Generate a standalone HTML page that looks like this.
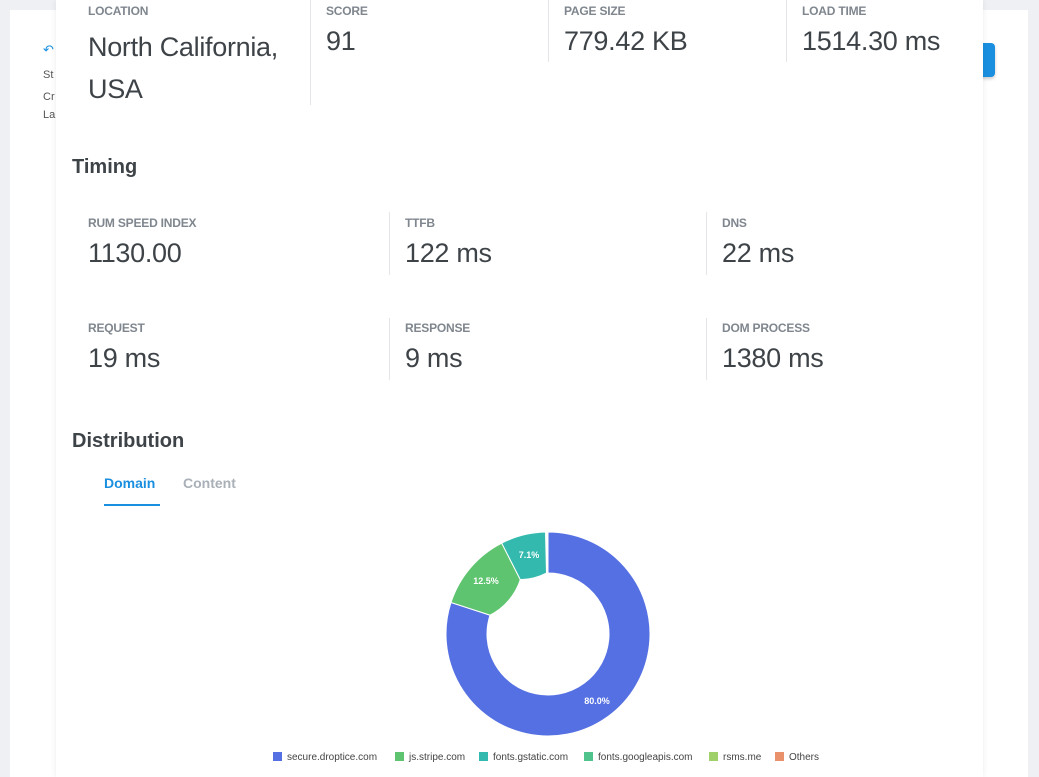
<!DOCTYPE html>
<html><head><meta charset="utf-8"><style>
*{margin:0;padding:0;box-sizing:border-box}
html,body{width:1039px;height:777px;overflow:hidden}
body{background:#eef0f3;font-family:"Liberation Sans",sans-serif;position:relative}
.a{position:absolute}
.card{left:10px;top:10px;width:1018px;height:767px;background:#fff}
.modal{left:56px;top:0;width:927px;height:777px;background:#fff;box-shadow:0 0 6px rgba(0,0,0,.08)}
.lbl{font-size:12px;font-weight:bold;color:#7f868e;letter-spacing:-.2px}
.val{font-size:27px;color:#3e4348;letter-spacing:-.3px}
.div{width:1px;background:#e3e5e8}
h2{position:absolute;font-size:20px;color:#3e4348;font-weight:bold}
.sm{font-size:11px;color:#555}
.leg{font-size:10px;color:#444;position:absolute;top:752px}
.leg i{display:inline-block;width:9px;height:9px;margin-right:5px;vertical-align:-1px}
</style></head><body>
<div class="a card"></div>
<div class="a" style="left:43px;top:42px;color:#1a8fe0;font-size:13px">↶</div>
<div class="a sm" style="left:43px;top:69px">St</div>
<div class="a sm" style="left:43px;top:91px">Cr</div>
<div class="a sm" style="left:43px;top:109px">La</div>
<div class="a" style="left:970px;top:43px;width:25px;height:34px;background:#1a8fe0;border-radius:4px;box-shadow:0 2px 3px rgba(0,0,0,.2)"></div>
<div class="a modal"></div>

<div class="a lbl" style="left:88px;top:4px">LOCATION</div>
<div class="a val" style="left:88px;top:26px;line-height:42px">North California,<br>USA</div>
<div class="a div" style="left:310px;top:0;height:105px"></div>
<div class="a lbl" style="left:326px;top:4px">SCORE</div>
<div class="a val" style="left:326px;top:26px">91</div>
<div class="a div" style="left:548px;top:0;height:62px"></div>
<div class="a lbl" style="left:564px;top:4px">PAGE SIZE</div>
<div class="a val" style="left:564px;top:26px">779.42 KB</div>
<div class="a div" style="left:786px;top:0;height:62px"></div>
<div class="a lbl" style="left:802px;top:4px">LOAD TIME</div>
<div class="a val" style="left:802px;top:26px">1514.30 ms</div>

<h2 style="left:72px;top:156px">Timing</h2>
<div class="a lbl" style="left:88px;top:216px">RUM SPEED INDEX</div>
<div class="a val" style="left:88px;top:238px">1130.00</div>
<div class="a div" style="left:389px;top:212px;height:63px"></div>
<div class="a lbl" style="left:405px;top:216px">TTFB</div>
<div class="a val" style="left:405px;top:238px">122 ms</div>
<div class="a div" style="left:706px;top:212px;height:63px"></div>
<div class="a lbl" style="left:722px;top:216px">DNS</div>
<div class="a val" style="left:722px;top:238px">22 ms</div>

<div class="a lbl" style="left:88px;top:321px">REQUEST</div>
<div class="a val" style="left:88px;top:343px">19 ms</div>
<div class="a div" style="left:389px;top:318px;height:62px"></div>
<div class="a lbl" style="left:405px;top:321px">RESPONSE</div>
<div class="a val" style="left:405px;top:343px">9 ms</div>
<div class="a div" style="left:706px;top:318px;height:62px"></div>
<div class="a lbl" style="left:722px;top:321px">DOM PROCESS</div>
<div class="a val" style="left:722px;top:343px">1380 ms</div>

<h2 style="left:72px;top:430px">Distribution</h2>
<div class="a" style="left:104px;top:475px;font-size:14px;font-weight:bold;color:#1a8fe0">Domain</div>
<div class="a" style="left:104px;top:504px;width:56px;height:2px;background:#1a8fe0"></div>
<div class="a" style="left:183px;top:475px;font-size:14px;font-weight:bold;color:#a9b0b7">Content</div>

<svg class="a" style="left:0;top:0" width="1039" height="777">
<g transform="translate(548,634)" stroke="#fff" stroke-width="1">
<path d="M0,-102 A102,102 0 1 1 -97.01,-31.52 L-58.01,-18.85 A61,61 0 1 0 0,-61 Z" fill="#5470e2"/>
<path d="M-97.01,-31.52 A102,102 0 0 1 -46.31,-90.88 L-27.69,-54.35 A61,61 0 0 1 -58.01,-18.85 Z" fill="#5ec46f"/>
<path d="M-46.31,-90.88 A102,102 0 0 1 -2.5,-101.97 L-1.5,-60.98 A61,61 0 0 1 -27.69,-54.35 Z" fill="#33b9ad"/>
</g>
<g font-family="Liberation Sans" font-size="9" font-weight="bold" fill="#fff" text-anchor="middle">
<text x="529" y="558">7.1%</text>
<text x="486" y="584">12.5%</text>
<text x="597" y="704">80.0%</text>
</g>
</svg>

<div class="leg" style="left:273px"><i style="background:#5470e2"></i>secure.droptice.com</div>
<div class="leg" style="left:395px"><i style="background:#5ec46f"></i>js.stripe.com</div>
<div class="leg" style="left:479px"><i style="background:#33b9ad"></i>fonts.gstatic.com</div>
<div class="leg" style="left:584px"><i style="background:#4fc38b"></i>fonts.googleapis.com</div>
<div class="leg" style="left:709px"><i style="background:#9fd06a"></i>rsms.me</div>
<div class="leg" style="left:775px"><i style="background:#e8916a"></i>Others</div>
</body></html>
